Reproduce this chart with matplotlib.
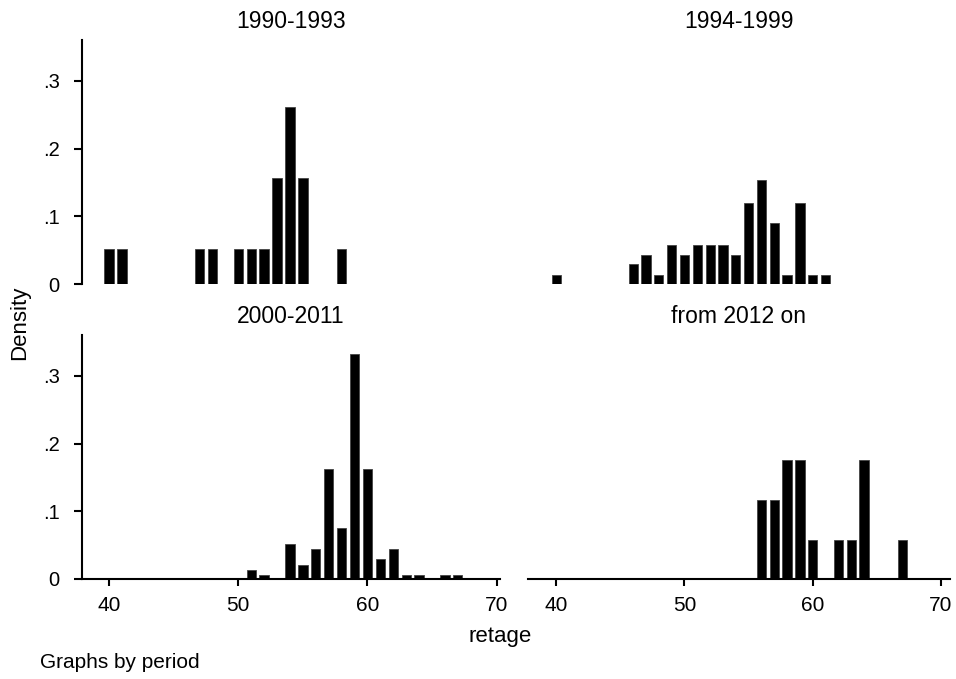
import matplotlib.pyplot as plt

plt.rcParams['font.family'] = ['Liberation Sans', 'DejaVu Sans']

# density per one-year bin
ages_9093 = [40, 41, 47, 48, 50, 51, 52, 53, 54, 55, 58]
dens_9093 = [0.052, 0.052, 0.052, 0.052, 0.052, 0.052, 0.052, 0.157, 0.262, 0.157, 0.052]

ages_9499 = [40, 46, 47, 48, 49, 50, 51, 52, 53, 54, 55, 56, 57, 58, 59, 60, 61]
dens_9499 = [0.014, 0.029, 0.043, 0.014, 0.058, 0.043, 0.058, 0.058, 0.058, 0.043,
             0.12, 0.154, 0.09, 0.014, 0.12, 0.014, 0.014]

ages_0011 = [51, 52, 54, 55, 56, 57, 58, 59, 60, 61, 62, 63, 64, 66, 67]
dens_0011 = [0.013, 0.006, 0.052, 0.02, 0.045, 0.162, 0.075, 0.333, 0.162, 0.029,
             0.045, 0.006, 0.006, 0.006, 0.006]

ages_12 = [56, 57, 58, 59, 60, 62, 63, 64, 67]
dens_12 = [0.116, 0.116, 0.175, 0.175, 0.058, 0.058, 0.058, 0.175, 0.058]

titles = ['1990-1993', '1994-1999', '2000-2011', 'from 2012 on']
xticks = [40, 50, 60, 70]
yticks = [0, 0.1, 0.2, 0.3]
ylabels = ['0', '.1', '.2', '.3']

fig = plt.figure(figsize=(9.56, 6.79), dpi=100)
ax1 = fig.add_axes([0.0858, 0.5817, 0.437, 0.359])
ax2 = fig.add_axes([0.5523, 0.5817, 0.4414, 0.359])
ax3 = fig.add_axes([0.0858, 0.1473, 0.437, 0.359])
ax4 = fig.add_axes([0.5523, 0.1473, 0.4414, 0.359])

data = [(ages_9093, dens_9093), (ages_9499, dens_9499),
        (ages_0011, dens_0011), (ages_12, dens_12)]

for i, ax in enumerate([ax1, ax2, ax3, ax4]):
    x, d = data[i]
    ax.bar(x, d, width=0.72, color='black', edgecolor='#444444', linewidth=0.6)
    if i in (0, 2):
        ax.set_xlim(37.9, 70.25)
    else:
        ax.set_xlim(37.8, 70.7)
    ax.set_ylim(0, 0.36)
    ax.set_title(titles[i], fontsize=16.5, pad=8.5)
    for s in ['top', 'right', 'left', 'bottom']:
        ax.spines[s].set_visible(False)
        ax.spines[s].set_linewidth(1.5)
    ax.tick_params(width=1.5)
    if i in (0, 2):
        ax.spines['left'].set_visible(True)
        ax.set_yticks(yticks)
        ax.set_yticklabels(ylabels)
        ax.tick_params(axis='y', length=6, pad=10, labelsize=14.5)
    else:
        ax.set_yticks([])
    if i in (2, 3):
        ax.spines['bottom'].set_visible(True)
        ax.set_xticks(xticks)
        ax.tick_params(axis='x', length=5, pad=7, labelsize=15)
    else:
        ax.set_xticks([])

fig.text(0.021, 0.524, 'Density', rotation=90, ha='center', va='center', fontsize=16)
fig.text(0.523, 0.062, 'retage', ha='center', va='center', fontsize=16)
fig.text(0.042, 0.0236, 'Graphs by period', ha='left', va='center', fontsize=15)

plt.savefig('out.png', dpi=100)
